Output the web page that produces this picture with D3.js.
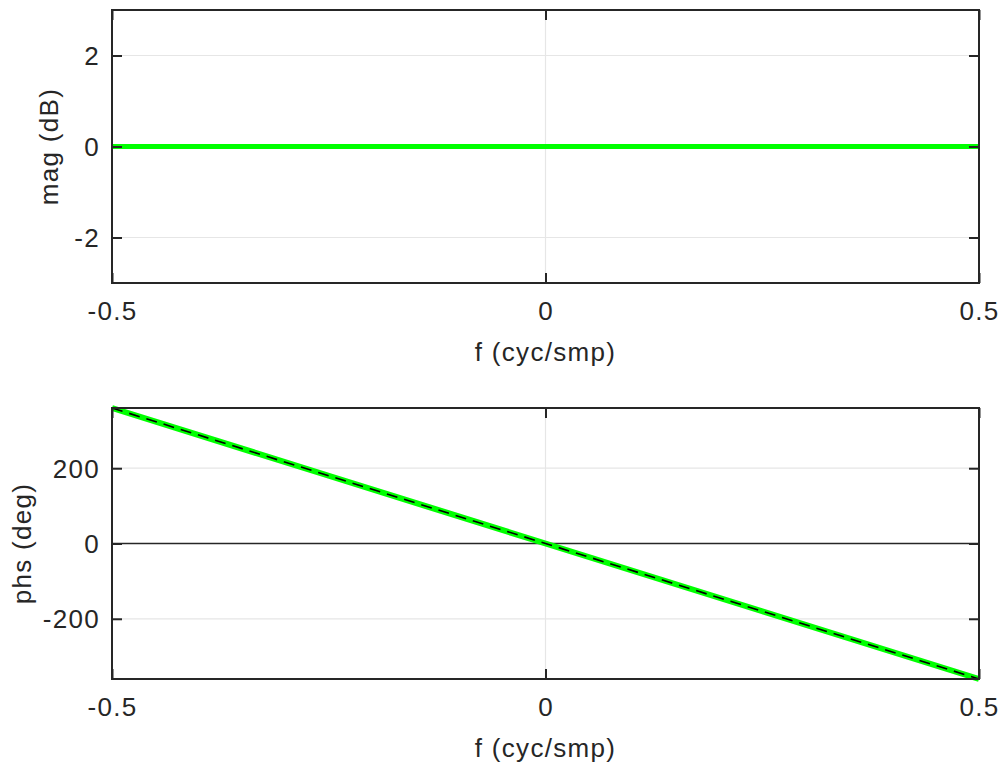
<!DOCTYPE html>
<html>
<head>
<meta charset="utf-8">
<script src="https://cdn.jsdelivr.net/npm/d3@7"></script>
<style>
  body { margin: 0; background: #fff; }
  text { font-family: "Liberation Sans", Arial, sans-serif; fill: #262626; }
</style>
</head>
<body>
<svg width="1001" height="766"></svg>
<script>
// frequency samples (cycles/sample)
const freq = [-0.5, -0.25, 0, 0.25, 0.5];
// magnitude response (dB)
const mag = [0, 0, 0, 0, 0];
// phase response (deg), measured and reference
const phs = [360, 180, 0, -180, -360];
const phsRef = [360, 180, 0, -180, -360];

const xTicks = [-0.5, 0, 0.5];
const magTicks = [-2, 0, 2];
const phsTicks = [-200, 0, 200];

const svg = d3.select("svg");
const fs = 26;
const ls = "1.3px";

function panel(top, bottom, yDomain, yTicks, ylabel, ylabelX, series) {
  const x = d3.scaleLinear().domain([-0.5, 0.5]).range([112, 979]);
  const y = d3.scaleLinear().domain(yDomain).range([bottom, top]);
  const g = svg.append("g");

  // grid
  g.selectAll(".gx").data(xTicks).join("line")
    .attr("x1", d => x(d)).attr("x2", d => x(d))
    .attr("y1", top).attr("y2", bottom)
    .attr("stroke", "#e6e6e6").attr("stroke-width", 1.2);
  g.selectAll(".gy").data(yTicks).join("line")
    .attr("x1", 112).attr("x2", 979)
    .attr("y1", d => y(d)).attr("y2", d => y(d))
    .attr("stroke", "#e6e6e6").attr("stroke-width", 1.2);

  // zero reference
  g.append("line")
    .attr("x1", 112).attr("x2", 979)
    .attr("y1", y(0)).attr("y2", y(0))
    .attr("stroke", "#262626").attr("stroke-width", 1.5);

  const line = d3.line().x((d, i) => x(freq[i])).y(d => y(d));
  series.forEach(s => {
    g.append("path").datum(s.values)
      .attr("d", line)
      .attr("fill", "none")
      .attr("stroke", s.color)
      .attr("stroke-width", s.width)
      .attr("stroke-dasharray", s.dash || null);
  });

  // frame
  g.append("rect")
    .attr("x", 112).attr("y", top)
    .attr("width", 979 - 112).attr("height", bottom - top)
    .attr("fill", "none").attr("stroke", "#262626").attr("stroke-width", 2);

  // axes with inward ticks
  const fmt = d => String(d);
  const axL = g.append("g").attr("transform", `translate(112,0)`)
    .call(d3.axisLeft(y).tickValues(yTicks).tickSizeInner(-10).tickSizeOuter(0).tickFormat(fmt));
  const axR = g.append("g").attr("transform", `translate(979,0)`)
    .call(d3.axisRight(y).tickValues(yTicks).tickSizeInner(-10).tickSizeOuter(0).tickFormat(""));
  const axB = g.append("g").attr("transform", `translate(0,${bottom})`)
    .call(d3.axisBottom(x).tickValues(xTicks).tickSizeInner(-10).tickSizeOuter(0).tickFormat(fmt));
  const axT = g.append("g").attr("transform", `translate(0,${top})`)
    .call(d3.axisTop(x).tickValues(xTicks).tickSizeInner(-10).tickSizeOuter(0).tickFormat(""));
  [axL, axR, axB, axT].forEach(a => {
    a.select(".domain").remove();
    a.selectAll(".tick line").attr("stroke", "#262626").attr("stroke-width", 2);
    a.selectAll("text").attr("font-size", fs).attr("fill", "#262626")
      .style("letter-spacing", ls)
      .style("font-family", '"Liberation Sans", Arial, sans-serif');
  });
  axL.selectAll("text").attr("x", -12).attr("dy", "0.35em");
  axB.selectAll("text").attr("y", 19).attr("dy", "0.71em");

  g.append("text")
    .attr("x", (112 + 979) / 2).attr("y", bottom + 78)
    .attr("text-anchor", "middle").attr("font-size", fs)
    .style("letter-spacing", ls)
    .text("f (cyc/smp)");
  g.append("text")
    .attr("transform", `translate(${ylabelX},${(top + bottom) / 2}) rotate(-90)`)
    .attr("text-anchor", "middle").attr("font-size", fs)
    .style("letter-spacing", ls)
    .text(ylabel);
}

panel(10, 283, [-3, 3], magTicks, "mag (dB)", 58, [
  { values: mag, color: "#00ff00", width: 5 }
]);
panel(408, 679, [-360, 360], phsTicks, "phs (deg)", 31, [
  { values: phs, color: "#00ff00", width: 6 },
  { values: phsRef, color: "#000", width: 1.6, dash: "11,7" }
]);
</script>
</body>
</html>
